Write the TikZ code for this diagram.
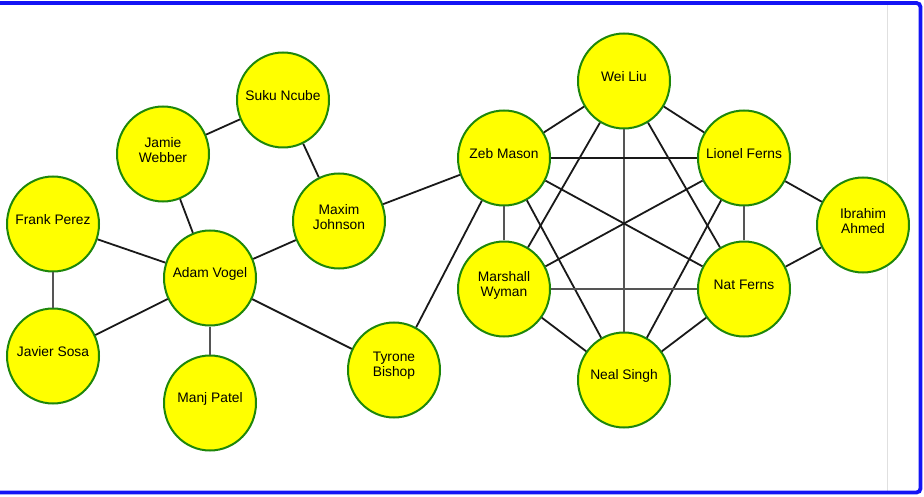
\documentclass[tikz,border=0pt]{standalone}
\usepackage{fontspec}
\setmainfont{Liberation Sans}
\usetikzlibrary{shapes.geometric}
\definecolor{nodeyellow}{RGB}{255,255,0}
\definecolor{nodegreen}{RGB}{30,135,10}
\definecolor{frameblue}{RGB}{20,20,245}
\definecolor{edgegrey}{RGB}{85,85,85}
\tikzset{
  person/.style={ellipse, minimum width=92pt, minimum height=95pt, inner sep=0pt,
    fill=nodeyellow, draw=nodegreen, line width=2pt},
  tag/.style={align=center, font=\fontsize{13.8}{15}\selectfont, yshift=4pt},
  link/.style={draw=black!90, line width=1.8pt},
  axis link/.style={draw=edgegrey, line width=2.2pt},
}
\begin{document}
\begin{tikzpicture}[x=1pt,y=-1pt]
\useasboundingbox (0,0) rectangle (924,497);
\clip (0,0) rectangle (924,497);
% frame
\draw[line width=0.8pt, black!12] (887,4) -- (887,491);
\draw[frameblue, line width=3.8pt, rounded corners=4pt] (-20,3) rectangle (920.5,492.5);
% nodes
\node[person, label={[tag]center:Suku Ncube}] (suku) at (283,100) {};
\node[person, label={[tag]center:Jamie\\Webber}] (jamie) at (163,154) {};
\node[person, label={[tag]center:Frank Perez}] (frank) at (53,224) {};
\node[person, label={[tag]center:Maxim\\Johnson}] (maxim) at (339,221) {};
\node[person, label={[tag]center:Adam Vogel}] (adam) at (210,278) {};
\node[person, label={[tag]center:Javier Sosa}] (javier) at (53,356) {};
\node[person, label={[tag]center:Manj Patel}] (manj) at (210,403) {};
\node[person, label={[tag]center:Tyrone\\Bishop}] (tyrone) at (394,370) {};
\node[person, label={[tag]center:Wei Liu}] (wei) at (624,81) {};
\node[person, label={[tag]center:Zeb Mason}] (zeb) at (504,158) {};
\node[person, label={[tag]center:Lionel Ferns}] (lionel) at (744,158) {};
\node[person, label={[tag]center:Ibrahim\\Ahmed}] (ibrahim) at (863,225) {};
\node[person, label={[tag]center:Marshall\\Wyman}] (marshall) at (504,289) {};
\node[person, label={[tag]center:Nat Ferns}] (nat) at (744,289) {};
\node[person, label={[tag]center:Neal Singh}] (neal) at (624,380) {};
% edges, left group
\draw[link] (jamie) -- (suku);
\draw[link] (suku) -- (maxim);
\draw[link] (jamie) -- (adam);
\draw[link] (frank) -- (adam);
\draw[axis link] (frank) -- (javier);
\draw[link] (javier) -- (adam);
\draw[axis link] (adam) -- (manj);
\draw[link] (adam) -- (maxim);
\draw[link] (adam) -- (tyrone);
\draw[link] (maxim) -- (zeb);
\draw[link] (tyrone) -- (zeb);
% edges, right group
\draw[link] (wei) -- (zeb);
\draw[link] (wei) -- (lionel);
\draw[axis link] (wei) -- (neal);
\draw[link] (wei) -- (marshall);
\draw[link] (wei) -- (nat);
\draw[link] (zeb) -- (lionel);
\draw[axis link] (zeb) -- (marshall);
\draw[link] (zeb) -- (nat);
\draw[link] (zeb) -- (neal);
\draw[link] (lionel) -- (marshall);
\draw[axis link] (lionel) -- (nat);
\draw[link] (lionel) -- (neal);
\draw[axis link] (marshall) -- (nat);
\draw[link] (marshall) -- (neal);
\draw[link] (nat) -- (neal);
\draw[link] (lionel) -- (ibrahim);
\draw[link] (nat) -- (ibrahim);
\end{tikzpicture}
\end{document}
